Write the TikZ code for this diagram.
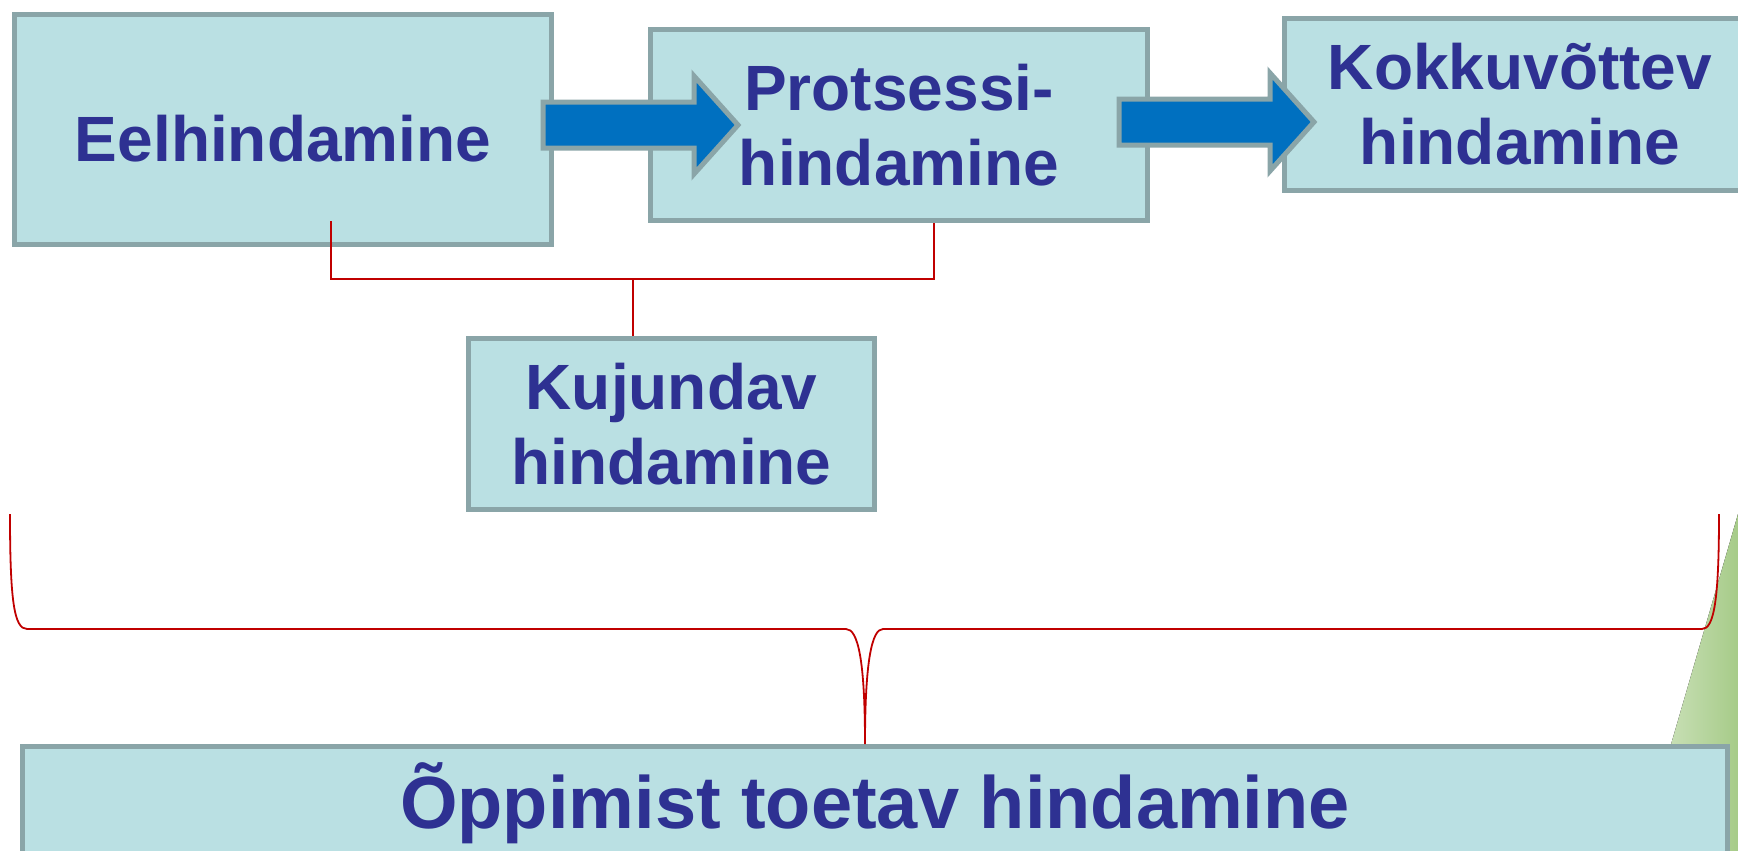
\documentclass[tikz,border=0pt]{standalone}
\usepackage{fontspec}
\setmainfont{Liberation Sans}
\usetikzlibrary{calc}

\definecolor{boxfill}{RGB}{186,224,227}
\definecolor{boxline}{RGB}{138,165,168}
\definecolor{textblue}{RGB}{46,49,146}
\definecolor{arrowblue}{RGB}{0,112,192}
\definecolor{linered}{RGB}{192,0,0}
\definecolor{leafgreen}{RGB}{163,201,132}
\definecolor{leaflight}{RGB}{214,232,200}

\begin{document}
\begin{tikzpicture}[x=1pt,y=-1pt,
  box/.style={draw=boxline, line width=5pt, fill=boxfill, text=textblue,
    align=center, inner sep=0pt, font=\bfseries\fontsize{64}{75}\selectfont},
  blockarrow/.style={draw=boxline, line width=5pt, fill=arrowblue},
  redline/.style={draw=linered, line width=1.8pt}]

% Fix the page size and cut off what lies outside
\useasboundingbox (0,0) rectangle (1738,851);
\clip (0,0) rectangle (1738,851);

% Green leaf in the corner
\fill[left color=leaflight, right color=leafgreen] (1745,490) -- (1640,851) -- (1738,851) -- (1738,490) -- cycle;

% Draw the boxes
\node[box, minimum width=537pt, minimum height=230pt, text height=65pt] (eel) at (283,129.5) {Eelhindamine};
\node[box, minimum width=497pt, minimum height=191pt] (pro) at (899,125) {Protsessi-\\hindamine};
\node[box, minimum width=471pt, minimum height=172pt] (kok) at (1520,104.5) {Kokkuvõttev\\hindamine};
\node[box, minimum width=406pt, minimum height=171pt] (kuj) at (671.5,424) {Kujundav\\hindamine};
\node[box, minimum width=1705pt, minimum height=126pt, text height=52pt, text depth=15pt,
  font=\bfseries\fontsize{74}{80}\selectfont] (big) at (875,809.5) {Õppimist toetav hindamine};

% Draw the block arrows
\draw[blockarrow] let \p1=([xshift=-11pt]eel.east |- pro.west), \p2=([xshift=90pt]pro.west) in
  (\x1,\y1+23pt) -- (\x2-44pt,\y1+23pt) -- (\x2-44pt,\y1+49pt) -- (\x2,\y1)
  -- (\x2-44pt,\y1-49pt) -- (\x2-44pt,\y1-23pt) -- (\x1,\y1-23pt) -- cycle;
\draw[blockarrow] let \p1=([xshift=-31pt,yshift=3pt]pro.east), \p2=([xshift=32pt]kok.west |- \p1) in
  (\x1,\y1+23pt) -- (\x2-44pt,\y1+23pt) -- (\x2-44pt,\y1+49pt) -- (\x2,\y1)
  -- (\x2-44pt,\y1-49pt) -- (\x2-44pt,\y1-23pt) -- (\x1,\y1-23pt) -- cycle;

% Red bracket joining the first two boxes
\coordinate (fork) at (633,279);
\draw[redline] ([xshift=48pt,yshift=26pt]eel.south) |- (fork) -| ([xshift=35pt]pro.south);
\draw[redline] (fork) -- (fork |- kuj.north);

% Big brace over the bottom box
\coordinate (bl) at (10,514);
\coordinate (br) at (1719,514);
\draw[redline] (bl) .. controls (10,600) and (14,629) .. (27,629) -- (846,629)
  .. controls (858,629) and (865,660) .. ([xshift=-10pt]big.north)
  .. controls (865,660) and (872,629) .. (883,629) -- (1702,629)
  .. controls (1714,629) and (1719,600) .. (br);

\end{tikzpicture}
\end{document}
